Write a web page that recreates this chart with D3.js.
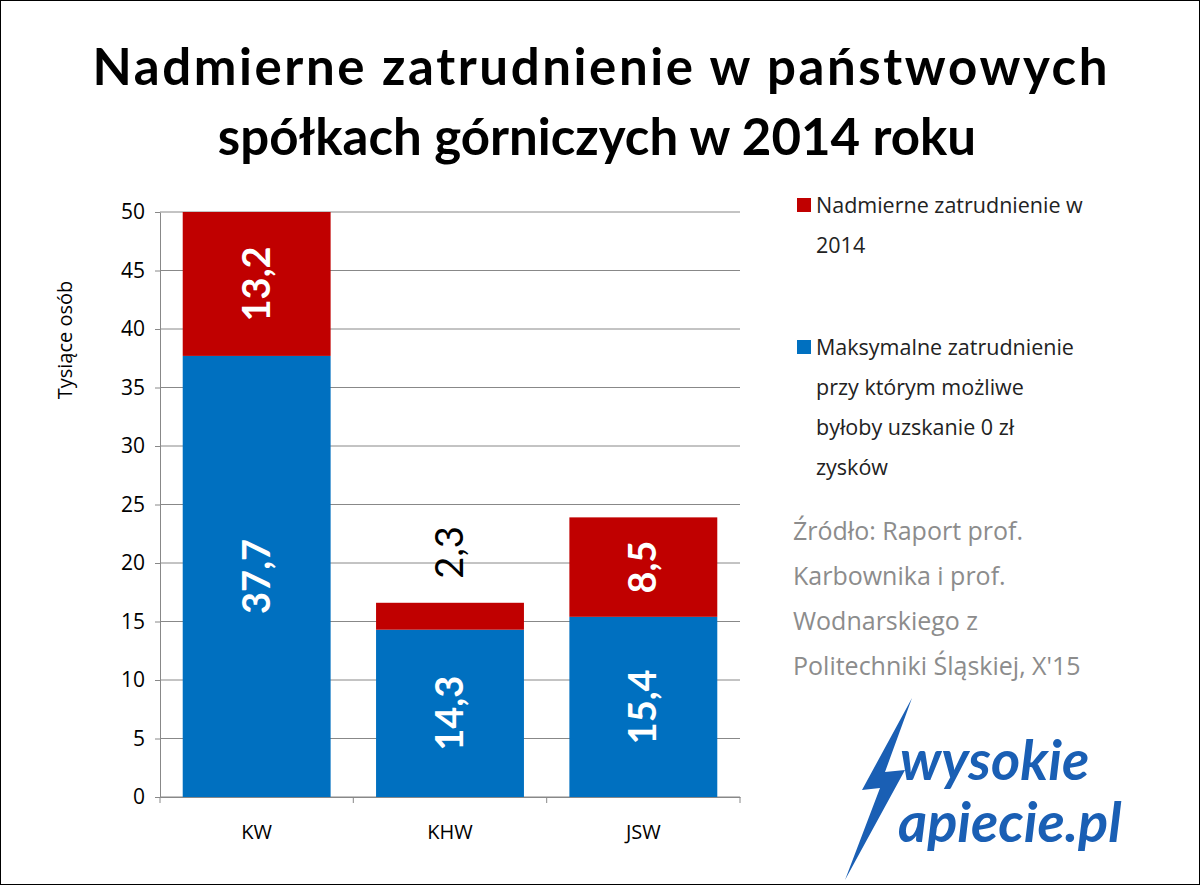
<!DOCTYPE html><html><head><meta charset="utf-8"><script src="https://cdn.jsdelivr.net/npm/d3@7"></script>
<style>body{margin:0;background:#fff}</style></head><body><svg id="c" width="1200" height="885"></svg>
<script>
const categories=["KW","KHW","JSW"];
const maxEmp=[37.7,14.3,15.4];
const excess=[13.2,2.3,8.5];
const maxLabels=["37,7","14,3","15,4"];
const excessLabels=["13,2","2,3","8,5"];
const yTicks=[0,5,10,15,20,25,30,35,40,45,50];
const F="Lato, 'Open Sans', sans-serif";
const F2="'Open Sans', sans-serif";
const svg=d3.select("#c");
svg.append("rect").attr("x",0.5).attr("y",0.5).attr("width",1199).attr("height",884).attr("fill","#fff").attr("stroke","#000");
const x=d3.scaleBand().domain(categories).range([160,740]).paddingInner(0.235).paddingOuter(0.1175);
const y=d3.scaleLinear().domain([0,50]).range([797,212]).clamp(true);
const g=svg.append("g");
g.selectAll(".gl").data(yTicks).join("line").attr("x1",160).attr("x2",740).attr("y1",d=>y(d)).attr("y2",d=>y(d)).attr("stroke","#888").attr("stroke-width",1);
const ya=svg.append("g").attr("transform","translate(160,0)").call(d3.axisLeft(y).tickValues(yTicks).tickSize(5).tickSizeOuter(0).tickPadding(10));
ya.selectAll("text").attr("font-family",F2).attr("font-size",21).attr("fill","#000");
ya.select(".domain").attr("stroke","#888");ya.selectAll("line").attr("stroke","#888");
const xa=svg.append("g").attr("transform","translate(0,797)").call(d3.axisBottom(x).tickSize(0).tickPadding(28));
xa.selectAll("text").attr("font-family",F2).attr("font-size",20).attr("fill","#000");
xa.select(".domain").attr("stroke","#888");
[160,353.3,546.7,740].forEach(v=>svg.append("line").attr("x1",v).attr("x2",v).attr("y1",797).attr("y2",803).attr("stroke","#888"));
svg.append("text").attr("transform",`translate(72,340) rotate(-90)`).attr("text-anchor","middle").attr("font-family",F2).attr("font-size",20).text("Tysiące osób");
g.selectAll(".b").data(categories).join("rect").attr("x",d=>x(d)).attr("width",x.bandwidth()).attr("y",(d,i)=>y(maxEmp[i])).attr("height",(d,i)=>y(0)-y(maxEmp[i])).attr("fill","#0070c0");
g.selectAll(".r").data(categories).join("rect").attr("x",d=>x(d)).attr("width",x.bandwidth()).attr("y",(d,i)=>y(maxEmp[i]+excess[i])).attr("height",(d,i)=>y(maxEmp[i])-y(maxEmp[i]+excess[i])).attr("fill","#c00000");
categories.forEach((c,i)=>{
 const cx=x(c)+x.bandwidth()/2;
 const top=Math.min(maxEmp[i]+excess[i],50);
 svg.append("text").attr("transform",`translate(${cx+13},${y(maxEmp[i]/2)}) rotate(-90)`).attr("text-anchor","middle").attr("font-family",F).attr("font-weight","bold").attr("font-size",38).attr("fill","#fff").text(maxLabels[i]);
 if(i==1) svg.append("text").attr("transform",`translate(${cx+13},${y(maxEmp[i]+excess[i]+4.3)}) rotate(-90)`).attr("text-anchor","middle").attr("font-family",F).attr("font-size",38).attr("fill","#000").text(excessLabels[i]);
 else svg.append("text").attr("transform",`translate(${cx+13},${y((maxEmp[i]+top)/2)}) rotate(-90)`).attr("text-anchor","middle").attr("font-family",F).attr("font-weight","bold").attr("font-size",38).attr("fill","#fff").text(excessLabels[i]);
});
svg.append("text").attr("x",600).attr("y",85).attr("text-anchor","middle").attr("font-family",F).attr("font-weight","bold").attr("font-size",51).attr("textLength",1015).text("Nadmierne zatrudnienie w państwowych");
svg.append("text").attr("x",597).attr("y",155).attr("text-anchor","middle").attr("font-family",F).attr("font-weight","bold").attr("font-size",51).text("spółkach górniczych w 2014 roku");
function lines(arr,x0,y0,dy,size,col){arr.forEach((t,i)=>svg.append("text").attr("x",x0).attr("y",y0+i*dy).attr("font-family",F2).attr("font-size",size).attr("fill",col).text(t));}
svg.append("rect").attr("x",797).attr("y",198).attr("width",14).attr("height",14).attr("fill","#c00000");
lines(["Nadmierne zatrudnienie w","2014"],816,213,40,21.5,"#222");
svg.append("rect").attr("x",797).attr("y",340).attr("width",14).attr("height",14).attr("fill","#0070c0");
lines(["Maksymalne zatrudnienie","przy którym możliwe","byłoby uzskanie 0 zł","zysków"],816,355,40,21.5,"#222");
lines(["Źródło: Raport  prof.","Karbownika i prof.","Wodnarskiego z","Politechniki Śląskiej, X'15"],793,540,45,25,"#8c8c8c");
svg.append("path").attr("d","M912,698 L862,790 L880,788 L845,880 L905,770 L885,772 Z").attr("fill","#1a5fb4");
svg.append("text").attr("x",900).attr("y",780).attr("font-family",F).attr("font-weight","bold").attr("font-style","italic").attr("font-size",56).attr("fill","#1a5fb4").text("wysokie");
svg.append("text").attr("x",898).attr("y",842).attr("font-family",F).attr("font-weight","bold").attr("font-style","italic").attr("font-size",56).attr("fill","#1a5fb4").text("apiecie.pl");
</script></body></html>
